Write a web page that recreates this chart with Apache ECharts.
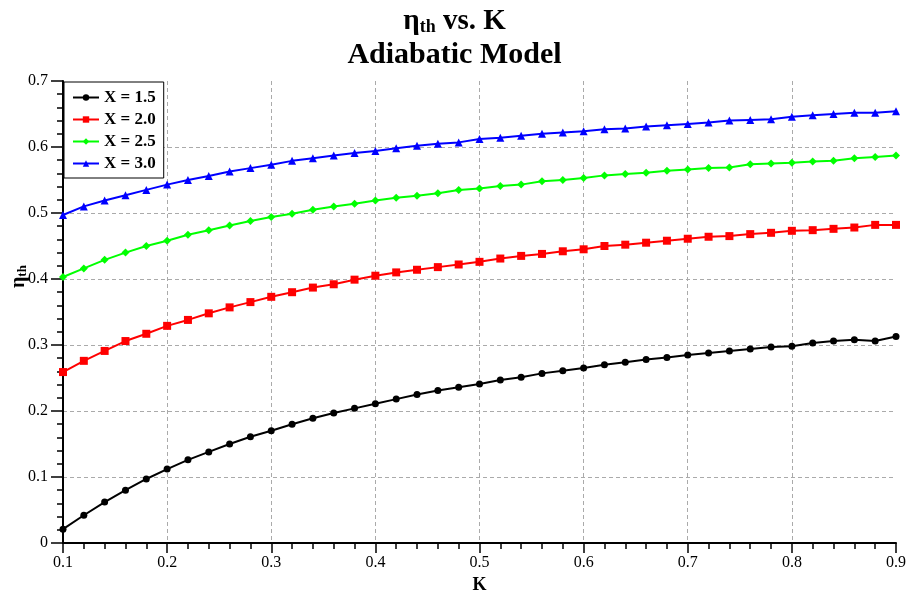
<!DOCTYPE html>
<html>
<head>
<meta charset="utf-8">
<script src="https://cdn.jsdelivr.net/npm/echarts@6/dist/echarts.min.js"></script>
<style>
  html, body { margin: 0; padding: 0; background: #fff; }
  #chart { width: 909px; height: 592px; }
</style>
</head>
<body>
<div id="chart"></div>
<script>
// K values (x axis)
const kValues = [0.10, 0.12, 0.14, 0.16, 0.18, 0.20, 0.22, 0.24, 0.26, 0.28,
                 0.30, 0.32, 0.34, 0.36, 0.38, 0.40, 0.42, 0.44, 0.46, 0.48,
                 0.50, 0.52, 0.54, 0.56, 0.58, 0.60, 0.62, 0.64, 0.66, 0.68,
                 0.70, 0.72, 0.74, 0.76, 0.78, 0.80, 0.82, 0.84, 0.86, 0.88, 0.90];

// thermal efficiency for each compression ratio X
const etaX15 = [0.021, 0.042, 0.062, 0.080, 0.097, 0.112, 0.126, 0.138, 0.150, 0.161,
                0.170, 0.180, 0.189, 0.197, 0.204, 0.211, 0.218, 0.225, 0.231, 0.236,
                0.241, 0.247, 0.251, 0.257, 0.261, 0.265, 0.270, 0.274, 0.278, 0.281,
                0.285, 0.288, 0.291, 0.294, 0.297, 0.298, 0.303, 0.306, 0.308, 0.306, 0.313];
const etaX20 = [0.259, 0.276, 0.291, 0.306, 0.317, 0.329, 0.338, 0.348, 0.357, 0.365,
                0.373, 0.380, 0.387, 0.392, 0.399, 0.405, 0.410, 0.414, 0.418, 0.422,
                0.426, 0.431, 0.435, 0.438, 0.442, 0.445, 0.450, 0.452, 0.455, 0.458,
                0.461, 0.464, 0.465, 0.468, 0.470, 0.473, 0.474, 0.476, 0.478, 0.482, 0.482];
const etaX25 = [0.403, 0.416, 0.429, 0.440, 0.450, 0.458, 0.467, 0.474, 0.481, 0.488,
                0.494, 0.499, 0.505, 0.510, 0.514, 0.519, 0.523, 0.526, 0.530, 0.535,
                0.537, 0.541, 0.543, 0.548, 0.550, 0.553, 0.557, 0.559, 0.561, 0.564,
                0.566, 0.568, 0.569, 0.574, 0.575, 0.576, 0.578, 0.579, 0.583, 0.585, 0.587];
const etaX30 = [0.497, 0.510, 0.519, 0.527, 0.535, 0.543, 0.550, 0.556, 0.563, 0.568,
                0.573, 0.579, 0.583, 0.587, 0.591, 0.594, 0.598, 0.602, 0.605, 0.607,
                0.612, 0.614, 0.617, 0.620, 0.622, 0.624, 0.627, 0.628, 0.631, 0.633,
                0.635, 0.637, 0.640, 0.641, 0.642, 0.646, 0.648, 0.650, 0.652, 0.652, 0.654];

const seriesNames = ['X = 1.5', 'X = 2.0', 'X = 2.5', 'X = 3.0'];
const seriesData = [etaX15, etaX20, etaX25, etaX30];
const seriesColors = ['#000000', '#ff0000', '#00ff00', '#0000ff'];
const seriesSymbols = ['circle', 'rect', 'diamond', 'triangle'];
const symbolSizes = [7, 8, 8, 8];

const FONT = '"Liberation Serif", "Times New Roman", serif';

const chart = echarts.init(document.getElementById('chart'), null, { renderer: 'canvas' });

const series = seriesNames.map((name, i) => ({
  name,
  type: 'line',
  data: kValues.map((k, j) => [k, seriesData[i][j]]),
  symbol: seriesSymbols[i],
  symbolSize: symbolSizes[i],
  showAllSymbol: true,
  lineStyle: { color: seriesColors[i], width: 2 },
  itemStyle: { color: seriesColors[i] },
  emphasis: { disabled: true },
  animation: false
}));

const tickStyle = { color: '#000', width: 1.5 };
const gridStyle = { color: '#aaaaaa', type: [4, 3], width: 1 };

chart.setOption({
  animation: false,
  backgroundColor: '#ffffff',
  title: [{
    left: 'center',
    top: 6,
    padding: 0,
    text: '{g|η}{s|th}{g| vs. K}',
    textStyle: {
      rich: {
        g: { fontFamily: FONT, fontWeight: 'bold', fontSize: 29, color: '#000', lineHeight: 30, verticalAlign: 'bottom' },
        s: { fontFamily: FONT, fontWeight: 'bold', fontSize: 18, color: '#000', lineHeight: 13, verticalAlign: 'bottom' }
      }
    }
  }, {
    left: 'center',
    top: 39,
    padding: 0,
    text: 'Adiabatic Model',
    textStyle: { fontFamily: FONT, fontWeight: 'bold', fontSize: 30, color: '#000', lineHeight: 32 }
  }],
  legend: {
    orient: 'vertical',
    left: 64,
    top: 82,
    data: seriesNames,
    itemWidth: 26,
    itemHeight: 8,
    itemGap: 5,
    padding: [7, 8, 6, 8],
    backgroundColor: '#ffffff',
    borderColor: '#000000',
    borderWidth: 1,
    borderRadius: 0,
    textStyle: { fontFamily: FONT, fontWeight: 'bold', fontSize: 17, color: '#000' }
  },
  grid: { left: 63, right: 13, top: 81, bottom: 49, containLabel: false, outerBoundsMode: 'none' },
  xAxis: {
    type: 'value',
    min: 0.1,
    max: 0.9,
    interval: 0.1,
    name: 'K',
    nameLocation: 'middle',
    nameGap: 29,
    nameTextStyle: { fontFamily: FONT, fontWeight: 'bold', fontSize: 18, color: '#000' },
    axisLine: { show: true, onZero: false, lineStyle: { color: '#000', width: 2 } },
    axisTick: { show: true, length: 10, lineStyle: tickStyle },
    minorTick: { show: true, splitNumber: 5, length: 6, lineStyle: tickStyle },
    axisLabel: { fontFamily: FONT, fontSize: 16, color: '#000', margin: 12 },
    splitLine: { show: true, showMaxLine: false, lineStyle: gridStyle }
  },
  yAxis: {
    type: 'value',
    min: 0,
    max: 0.7,
    interval: 0.1,
    axisLine: { show: true, onZero: false, lineStyle: { color: '#000', width: 2 } },
    axisTick: { show: true, length: 12, lineStyle: tickStyle },
    minorTick: { show: true, splitNumber: 5, length: 6, lineStyle: tickStyle },
    axisLabel: { fontFamily: FONT, fontSize: 16, color: '#000', margin: 15 },
    splitLine: { show: true, showMaxLine: false, lineStyle: gridStyle }
  },
  graphic: [{
    type: 'text',
    x: 7,
    y: 288,
    rotation: Math.PI / 2,
    style: {
      text: '{g|η}{s|th}',
      rich: {
        g: { fontFamily: FONT, fontWeight: 'bold', fontSize: 20, fill: '#000', verticalAlign: 'bottom', lineHeight: 22 },
        s: { fontFamily: FONT, fontWeight: 'bold', fontSize: 13, fill: '#000', verticalAlign: 'bottom', lineHeight: 10 }
      }
    }
  }],
  series
});
</script>
</body>
</html>
